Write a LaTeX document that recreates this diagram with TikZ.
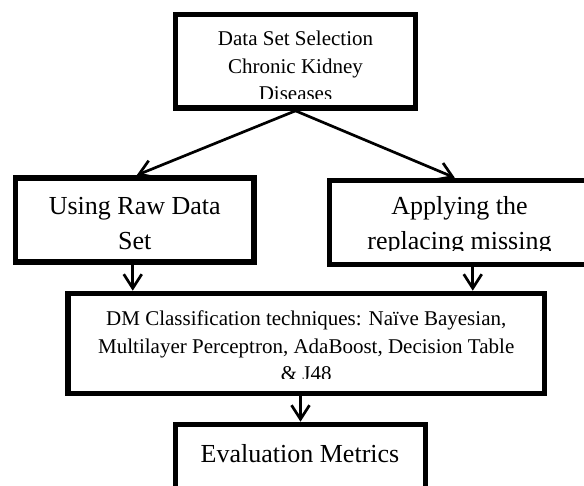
\documentclass[tikz,border=0pt]{standalone}
\usepackage{fontspec}
\setmainfont{Liberation Serif}
\usetikzlibrary{arrows.meta,calc}
\begin{document}
\begin{tikzpicture}[x=1pt,y=-1pt,
  box/.style={draw=black,line width=5.6pt,rectangle,inner sep=0pt},
  conn/.style={line width=2.7pt,-{Straight Barb[length=14pt,width=18pt]}},
  smalltxt/.style={font=\fontsize{21}{27.7}\selectfont,align=center,inner sep=0pt,anchor=base},
  bigtxt/.style={font=\fontsize{26}{35}\selectfont,align=center,inner sep=0pt,anchor=base}]
\clip (0,0) rectangle (584,486);
\fill[white] (0,0) rectangle (584,486);
% boxes
\node[box,minimum width=240pt,minimum height=93.5pt] (top) at (295.5,61.25) {};
\node[box,minimum width=238.5pt,minimum height=84pt] (left) at (134.75,220) {};
\node[box,minimum width=262.5pt,minimum height=84pt] (right) at (460.75,222.5) {};
\node[box,minimum width=476.5pt,minimum height=100pt] (mid) at (306.25,343.5) {};
\node[box,minimum width=250pt,minimum height=95.5pt] (bot) at (300.5,472.25) {};
% texts, clipped inside the boxes (base anchor = last line's baseline)
\begin{scope}
\clip (178,17) rectangle (413,99);
\node[smalltxt] (ttop) at (295.5,101) {Data Set Selection\\Chronic Kidney\\Diseases};
\end{scope}
\begin{scope}
\clip (18,181) rectangle (251,251);
\node[bigtxt] (tleft) at (134.75,250) {Using Raw Data\\Set};
\end{scope}
\begin{scope}
\clip (332,183) rectangle (589,251);
\node[bigtxt] (tright) at (459.5,250) {Applying the\\replacing missing};
\end{scope}
\begin{scope}
\clip (71,296) rectangle (542,379);
\node[smalltxt] (tmid) at (306.25,381) {DM Classification techniques: Naïve Bayesian,\\Multilayer Perceptron, AdaBoost, Decision Table\\\& J48};
\end{scope}
\begin{scope}
\clip (178,427) rectangle (423,486);
\node[bigtxt] (tbot) at (300,462) {Evaluation Metrics};
\end{scope}
% connectors
\draw[conn] (top.south) -- ([xshift=2pt]left.north);
\draw[conn] (top.south) -- ([xshift=-6pt]right.north);
\draw[conn] ([xshift=-2pt]left.south) -- ([xshift=-2pt]left.south |- mid.north);
\draw[conn] ([xshift=12pt]right.south) -- ([xshift=12pt]right.south |- mid.north);
\draw[conn] (mid.south -| bot.north) -- (bot.north);
\end{tikzpicture}
\end{document}
